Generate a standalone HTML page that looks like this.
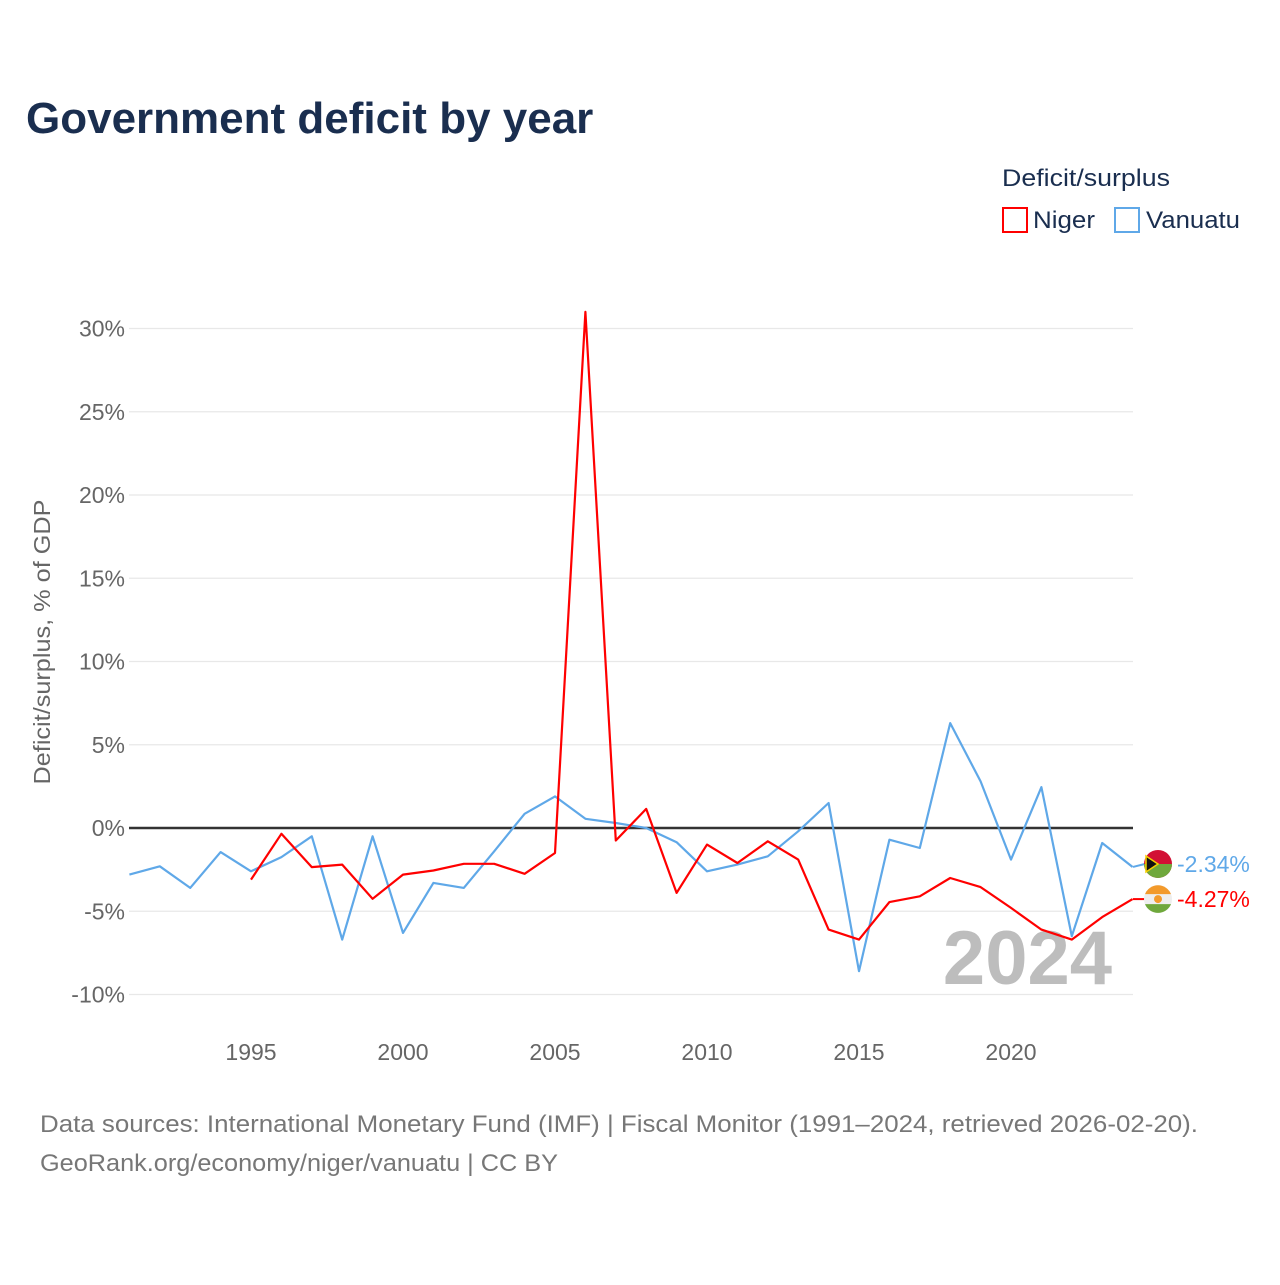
<!DOCTYPE html>
<html><head><meta charset="utf-8"><style>
body{margin:0;background:#fff;font-family:"Liberation Sans",sans-serif;}
</style></head><body>
<svg width="1280" height="1280" viewBox="0 0 1280 1280" xmlns="http://www.w3.org/2000/svg">
<text x="26" y="133" font-size="44" font-weight="bold" fill="#1a2e4f">Government deficit by year</text>
<text x="1002" y="186" font-size="24" fill="#1a2e4f" textLength="168" lengthAdjust="spacingAndGlyphs">Deficit/surplus</text>
<g><rect x="1003" y="208" width="24" height="24" fill="none" stroke="#ff0000" stroke-width="2"/><text x="1033" y="228" font-size="24" fill="#1a2e4f" textLength="62" lengthAdjust="spacingAndGlyphs">Niger</text></g>
<g><rect x="1115" y="208" width="24" height="24" fill="none" stroke="#5fa8e8" stroke-width="2"/><text x="1146" y="228" font-size="24" fill="#1a2e4f" textLength="94" lengthAdjust="spacingAndGlyphs">Vanuatu</text></g>
<text transform="translate(50,642) rotate(-90)" text-anchor="middle" font-size="23" fill="#666" textLength="285" lengthAdjust="spacingAndGlyphs">Deficit/surplus, % of GDP</text>
<g id="grid"></g><g id="yticks"></g><g id="xticks"></g>
<text x="1112" y="984" text-anchor="end" font-size="76" font-weight="bold" fill="#bdbdbd">2024</text>
<g id="series"></g>
<text x="40" y="1132" font-size="24" fill="#777" textLength="1158" lengthAdjust="spacingAndGlyphs">Data sources: International Monetary Fund (IMF) | Fiscal Monitor (1991–2024, retrieved 2026-02-20).</text>
<text x="40" y="1171" font-size="24" fill="#777" textLength="518" lengthAdjust="spacingAndGlyphs">GeoRank.org/economy/niger/vanuatu | CC BY</text>
</svg>
<script>
const years=[];for(let y=1991;y<=2024;y++)years.push(y);
const vanuatu=[-2.8,-2.3,-3.6,-1.45,-2.6,-1.75,-0.5,-6.7,-0.5,-6.3,-3.3,-3.6,-1.4,0.85,1.9,0.55,0.3,0,-0.85,-2.6,-2.2,-1.7,-0.2,1.5,-8.6,-0.7,-1.2,6.3,2.8,-1.9,2.45,-6.5,-0.9,-2.34];
const niger=[null,null,null,null,-3.1,-0.35,-2.35,-2.2,-4.25,-2.8,-2.55,-2.15,-2.15,-2.75,-1.5,31.0,-0.75,1.15,-3.9,-1.0,-2.1,-0.8,-1.9,-6.1,-6.7,-4.45,-4.1,-3.0,-3.55,-4.8,-6.1,-6.7,-5.35,-4.27];
const yTicks=[-10,-5,0,5,10,15,20,25,30];
const xTicks=[1995,2000,2005,2010,2015,2020];
const NS="http://www.w3.org/2000/svg";
const X=y=>129.4+(y-1991)*(1132.6-129.4)/33;
const Y=v=>828-v*16.65;
function mk(t,a,p){const e=document.createElementNS(NS,t);for(const k in a)e.setAttribute(k,a[k]);p.appendChild(e);return e;}
const grid=document.getElementById('grid'),yt=document.getElementById('yticks'),xt=document.getElementById('xticks'),ser=document.getElementById('series');
yTicks.forEach(v=>{
 const l=mk('line',{x1:129,x2:1133,y1:Y(v),y2:Y(v),stroke:v===0?'#333':'#e8e8e8','stroke-width':v===0?2.5:1.2},grid);
 
 
 const t=mk('text',{x:125,y:Y(v)+8,'text-anchor':'end','font-size':23,fill:'#666'},yt);t.textContent=v+'%';
 
 
});
xTicks.forEach(v=>{
 const t=mk('text',{x:X(v),y:1060,'text-anchor':'middle','font-size':23,fill:'#666'},xt);t.textContent=v;
 
 
});
function line(data,color,name){
 let d='';data.forEach((v,i)=>{if(v===null)return;d+=(d?'L':'M')+X(years[i]).toFixed(1)+','+Y(v).toFixed(1);});
 const p=mk('path',{d:d,fill:'none',stroke:color,'stroke-width':2.2,'stroke-linejoin':'round'},ser);
 
 
}
line(vanuatu,'#5fa8e8','vanuatu-line');
line(niger,'#ff0000','niger-line');
function endLabel(v,color,name,flag,dy){
 const y=Y(v)+dy;
 const g=mk('g',{},ser);
 
 
 mk('line',{x1:1133,x2:1145,y1:Y(v),y2:y,stroke:color,'stroke-width':2},g);
 if(flag==='vu'){
  mk('circle',{cx:1158,cy:y,r:14,fill:'#d21034'},g);
  mk('path',{d:`M1144,${y} A14,14 0 0 0 1172,${y} Z`,fill:'#6fa83c'},g);
  mk('path',{d:`M1146,${y-8} L1158,${y} L1146,${y+8} Z`,fill:'#111',stroke:'#f5d000','stroke-width':1.5},g);
 }else{
  mk('circle',{cx:1158,cy:y,r:14,fill:'#eee'},g);
  mk('path',{d:`M1145,${y-5} A14,14 0 0 1 1171,${y-5} Z`,fill:'#f39a2b'},g);
  mk('path',{d:`M1145,${y+5} A14,14 0 0 0 1171,${y+5} Z`,fill:'#6fa83c'},g);
  mk('circle',{cx:1158,cy:y,r:4,fill:'#f39a2b'},g);
 }
 const t=mk('text',{x:1177,y:y+8,'font-size':23,fill:color},g);t.textContent=v.toFixed(2)+'%';
}
endLabel(vanuatu[vanuatu.length-1],'#5fa8e8','vanuatu-end-label','vu',-3);
endLabel(niger[niger.length-1],'#ff0000','niger-end-label','ne',0);
</script>
</body></html>
